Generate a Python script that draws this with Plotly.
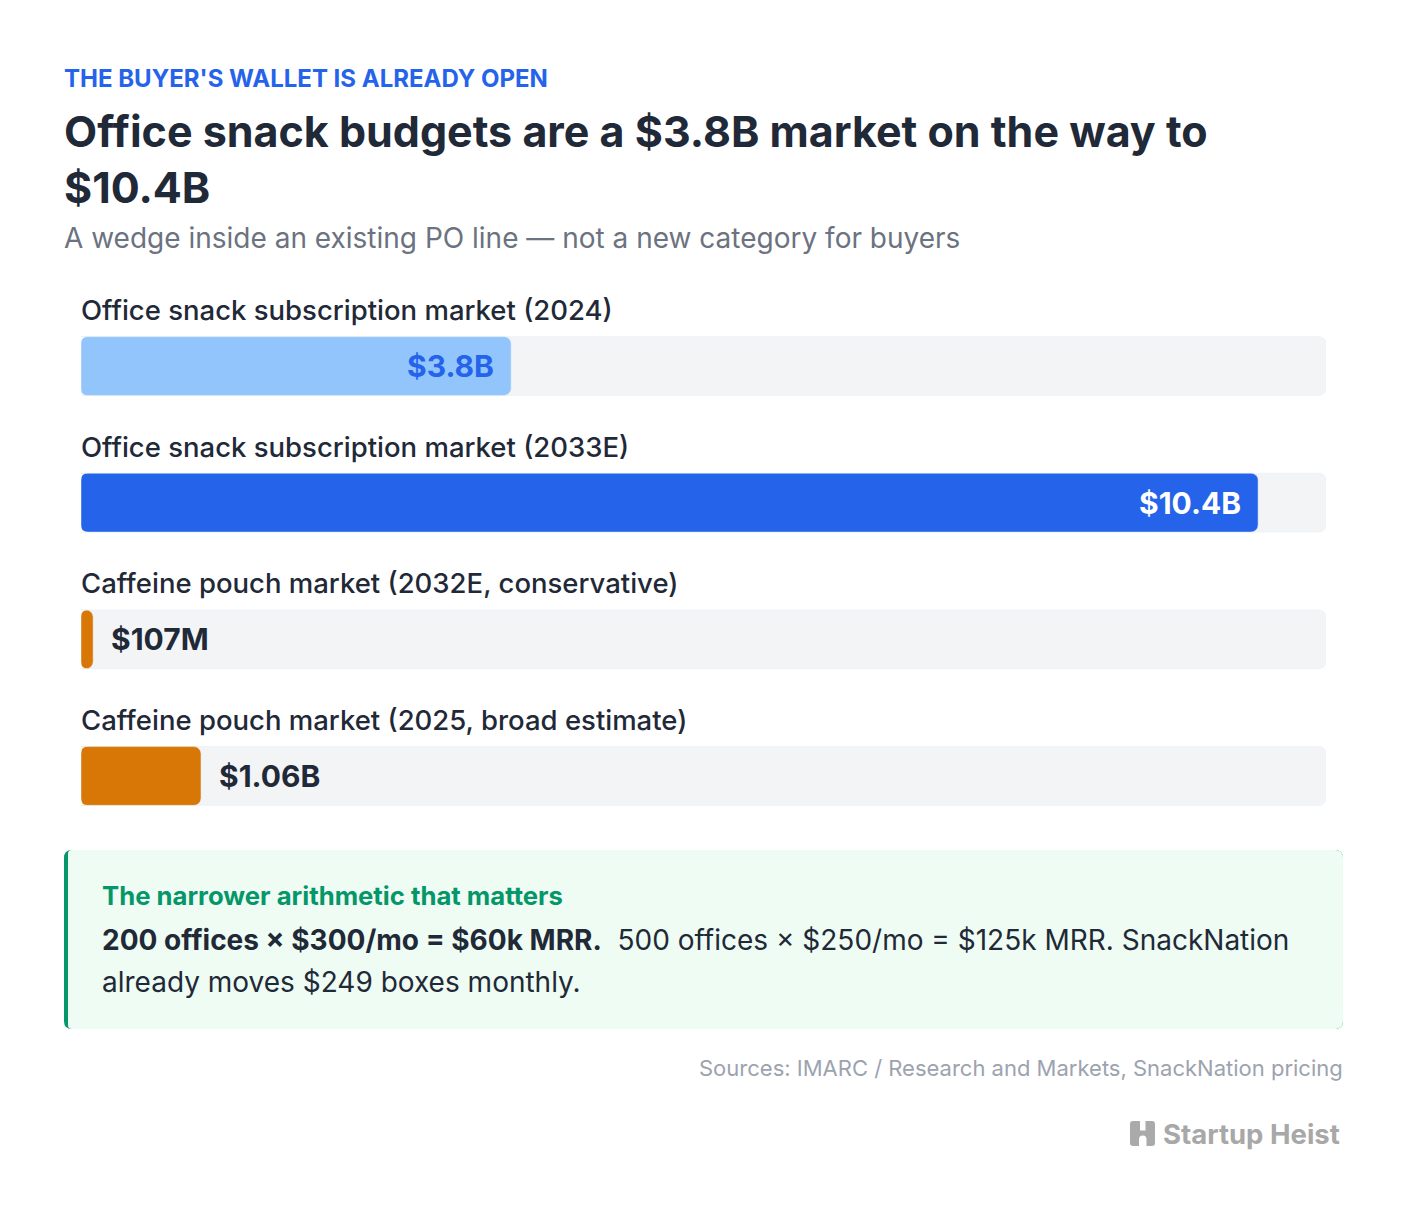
import plotly.graph_objects as go

# ---------------- data ----------------
CATEGORIES = [
    "Office snack subscription market (2024)",
    "Office snack subscription market (2033E)",
    "Caffeine pouch market (2032E, conservative)",
    "Caffeine pouch market (2025, broad estimate)",
]
VALUES_BN = [3.8, 10.4, 0.107, 1.06]
VALUE_LABELS = ["$3.8B", "$10.4B", "$107M", "$1.06B"]
AXIS_MAX = 11

KICKER = "THE BUYER'S WALLET IS ALREADY OPEN"
TITLE = "Office snack budgets are a $3.8B market on the way to<br>$10.4B"
SUBTITLE = "A wedge inside an existing PO line \u2014 not a new category for buyers"
CALLOUT_HEAD = "The narrower arithmetic that matters"
CALLOUT_L1 = "<b>200 offices \u00d7 $300/mo = $60k MRR.</b>&nbsp; 500 offices \u00d7 $250/mo = $125k MRR. SnackNation"
CALLOUT_L2 = "already moves $249 boxes monthly."
SOURCES = "Sources: IMARC / Research and Markets, SnackNation pricing"
BRAND = "Startup Heist"

# ---------------- styles ----------------
W, H = 1408, 1218
FONT = "Inter"
BAR_COLORS = ["#93c5fd", "#2563eb", "#d97706", "#d97706"]
LABEL_COLORS = ["#2563eb", "#ffffff", "#1f2937", "#1f2937"]
TRACK = "#f3f4f6"
DARK = "#1f2937"
INSIDE_THRESHOLD = 2.0
BAR_FRAC = 0.43
RADIUS = 7


def px(x):
    return x / W


def py(y):
    return 1 - y / H


def rrect(x0, y0, x1, y1, rl, rr):
    """Rounded-rect path in paper coords from pixel coords."""
    def P(x, y):
        return f"{px(x):.6f},{py(y):.6f}"
    s = f"M {P(x0 + rl, y0)} L {P(x1 - rr, y0)} Q {P(x1, y0)} {P(x1, y0 + rr)} "
    s += f"L {P(x1, y1 - rr)} Q {P(x1, y1)} {P(x1 - rr, y1)} "
    s += f"L {P(x0 + rl, y1)} Q {P(x0, y1)} {P(x0, y1 - rl)} "
    s += f"L {P(x0, y0 + rl)} Q {P(x0, y0)} {P(x0 + rl, y0)} Z"
    return s


n = len(CATEGORIES)
ypos = [n - 1 - i for i in range(n)]  # first category at the top

PLOT_TOP, PLOT_BOTTOM = 297.7, 844.3
row_px = (PLOT_BOTTOM - PLOT_TOP) / n
half = BAR_FRAC * row_px / 2

fig = go.Figure()
fig.add_trace(go.Bar(
    y=ypos, x=[AXIS_MAX] * n, orientation="h", yaxis="y",
    marker=dict(color=TRACK, cornerradius=RADIUS),
    hoverinfo="skip", showlegend=False,
))
fig.add_trace(go.Bar(
    y=ypos, x=VALUES_BN, orientation="h", yaxis="y2",
    marker=dict(color=BAR_COLORS, cornerradius=RADIUS),
    hoverinfo="skip", showlegend=False,
))

ann = []
shapes = []
for i, (cat, v, lab) in enumerate(zip(CATEGORIES, VALUES_BN, VALUE_LABELS)):
    yy = ypos[i]
    ann.append(dict(x=0, y=yy, xref="x", yref="y", text=cat, showarrow=False,
                    xanchor="left", yanchor="middle", yshift=56, xshift=-2,
                    font=dict(family=FONT, size=27.5, color=DARK, weight=500)))
    inside = v > INSIDE_THRESHOLD
    ann.append(dict(x=v, y=yy, xref="x", yref="y", text=lab, showarrow=False,
                    xanchor="right" if inside else "left", yanchor="middle",
                    xshift=-15 if inside else 16, yshift=0,
                    font=dict(family=FONT, size=30, color=LABEL_COLORS[i], weight=700)))
    # white masks that round the left (base) corners of each row
    r = RADIUS
    mask = (f"M0,{half:.2f} L0,{half - r:.2f} Q0,{half:.2f} {r},{half:.2f} Z "
            f"M0,{-half:.2f} L0,{-half + r:.2f} Q0,{-half:.2f} {r},{-half:.2f} Z")
    shapes.append(dict(type="path", xref="x", yref="y2", xsizemode="pixel", ysizemode="pixel",
                       xanchor=0, yanchor=yy, path=mask, fillcolor="white",
                       line=dict(width=0), layer="above"))


def txt(x, y, text, size, color, weight=400, anchor="left"):
    ann.append(dict(x=px(x), y=py(y), xref="paper", yref="paper", text=text,
                    showarrow=False, xanchor=anchor, yanchor="middle", align=anchor,
                    font=dict(family=FONT, size=size, color=color, weight=weight)))


txt(62, 79, KICKER, 24, "#2563eb", 700)
txt(62, 159, TITLE, 43, DARK, 700)
txt(62, 238, SUBTITLE, 28, "#6b7280", 400)
txt(100, 895, CALLOUT_HEAD, 25.7, "#059669", 700)
txt(100, 940, CALLOUT_L1, 28, DARK, 400)
txt(100, 982, CALLOUT_L2, 28, DARK, 400)
txt(1345, 1068, SOURCES, 22, "#9ca3af", 400, anchor="right")
txt(1161, 1134, BRAND, 27.5, "#a8a8a8", 700)

shapes += [
    dict(type="path", xref="paper", yref="paper", path=rrect(64, 850, 1343, 1029, 8, 8),
         fillcolor="#059669", line=dict(width=0), layer="below"),
    dict(type="path", xref="paper", yref="paper", path=rrect(68, 850, 1343, 1029, 4, 8),
         fillcolor="#eefcf3", line=dict(width=0), layer="below"),
    # brand icon
    dict(type="path", xref="paper", yref="paper", path=rrect(1130, 1121, 1155, 1146, 3, 3),
         fillcolor="#aaaaaa", line=dict(width=0)),
    dict(type="rect", xref="paper", yref="paper", x0=px(1140), x1=px(1145.5), y0=py(1121), y1=py(1130.5),
         fillcolor="white", line=dict(width=0)),
    dict(type="path", xref="paper", yref="paper",
         path=f"M {px(1139):.6f},{py(1146.5):.6f} L {px(1139):.6f},{py(1139.5):.6f} "
              f"Q {px(1139):.6f},{py(1135.5):.6f} {px(1142.75):.6f},{py(1135.5):.6f} "
              f"Q {px(1146.5):.6f},{py(1135.5):.6f} {px(1146.5):.6f},{py(1139.5):.6f} "
              f"L {px(1146.5):.6f},{py(1146.5):.6f} Z",
         fillcolor="white", line=dict(width=0)),
]

ydom = [py(PLOT_BOTTOM), py(PLOT_TOP)]
fig.update_layout(
    width=W, height=H,
    margin=dict(l=0, r=0, t=0, b=0),
    paper_bgcolor="white", plot_bgcolor="white",
    barmode="group", bargap=1 - BAR_FRAC, barcornerradius=RADIUS,
    xaxis=dict(domain=[px(81), px(1326)], range=[0, AXIS_MAX], visible=False, fixedrange=True),
    yaxis=dict(domain=ydom, range=[-0.5, n - 0.5], visible=False, fixedrange=True),
    yaxis2=dict(domain=ydom, range=[-0.5, n - 0.5], visible=False, fixedrange=True,
                overlaying="y", anchor="x"),
    annotations=ann, shapes=shapes,
    font=dict(family=FONT),
    showlegend=False,
)

fig.write_html("out.html", config={"displayModeBar": False})
